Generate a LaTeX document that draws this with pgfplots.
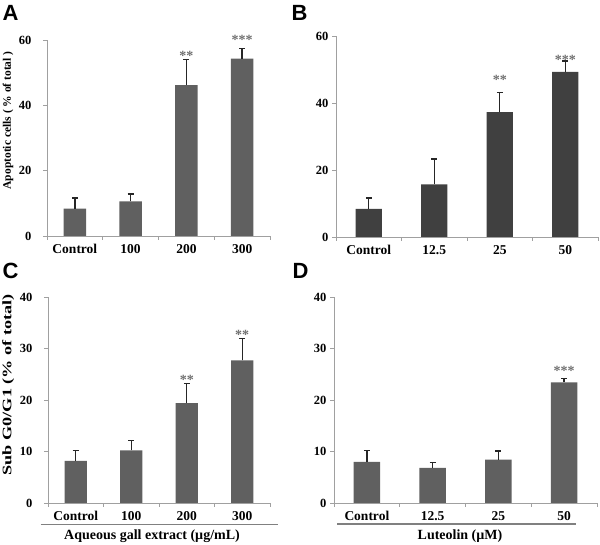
\documentclass[border=0pt]{standalone}
\usepackage{fontspec}
\setmainfont{Liberation Serif}
\newfontfamily\letterfont{Liberation Sans}
\usepackage{graphicx}
\usepackage{pgfplots}
\pgfplotsset{compat=1.18}

\definecolor{barA}{RGB}{96,96,96}
\definecolor{barB}{RGB}{64,64,64}
\definecolor{axgray}{RGB}{160,160,160}
\definecolor{stargray}{RGB}{110,110,110}

\tikzset{stars/.style={stargray, font=\fontsize{14}{16}\selectfont\bfseries, yshift=-3pt}}

\pgfplotsset{
  panel/.style={
    scale only axis, clip=false,
    xmin=-0.5, xmax=3.5, ymin=0, enlargelimits=false,
    axis x line*=bottom, axis y line*=left,
    axis line style={draw=axgray, line width=0.9pt},
    tick align=outside, major tick length=4pt, minor tick length=4pt,
    tick style={draw=axgray, line width=0.9pt},
    xtick={0,1,2,3}, major x tick style={draw=none},
    minor xtick={-0.5,0.5,1.5,2.5,3.5},
    /pgf/number format/assume math mode=true,
    xticklabel style={font=\fontsize{13.5}{15}\selectfont\bfseries, yshift=-1pt},
    yticklabel style={font=\fontsize{12.5}{14}\selectfont\bfseries},
    xticklabels={Control,100,200,300},
  },
  bars/.style={
    ybar, bar width=0.4, fill=#1, draw=none,
    error bars/.cd, y dir=plus, y explicit,
    error bar style={line width=1.3pt, color=black!85},
    error mark options={rotate=90, line width=1.3pt, mark size=3pt, color=black!85},
  },
}

\begin{document}
\begin{tikzpicture}
\useasboundingbox (0,0) rectangle (600pt,545pt);

% A
\begin{axis}[panel, at={(47pt,309pt)}, anchor=south west,
  width=223pt, height=196pt, ymax=60, ytick={0,20,40,60},
  yticklabel style={xshift=-8pt},
  ylabel={Apoptotic cells ( \% of total )},
  ylabel style={at={(rel axis cs:-0.175,0.59)}, rotate=0, anchor=center,
    font=\fontsize{11.5}{13}\selectfont\bfseries}]
\addplot[bars=barA] coordinates {
  (0,8.4) +- (0,3.2)
  (1,10.6) +- (0,2.3)
  (2,46.2) +- (0,7.9)
  (3,54.3) +- (0,3.0)
};
\node[stars] at (axis cs:2,56.0) {**};
\node[stars] at (axis cs:3,61.0) {***};
\end{axis}

% B
\begin{axis}[panel, at={(336pt,308pt)}, anchor=south west,
  width=262pt, height=201pt, ymax=60, ytick={0,20,40,60},
  xticklabels={Control,12.5,25,50}]
\addplot[bars=barB] coordinates {
  (0,8.4) +- (0,3.2)
  (1,15.7) +- (0,7.6)
  (2,37.3) +- (0,5.9)
  (3,49.3) +- (0,3.2)
};
\node[stars] at (axis cs:2,47.8) {**};
\node[stars] at (axis cs:3,53.7) {***};
\end{axis}

% C
\begin{axis}[panel, at={(48pt,42pt)}, anchor=south west,
  width=222pt, height=206pt, ymax=40, ytick={0,10,20,30,40},
  yticklabel style={xshift=-8pt},
  ylabel={\scalebox{1.4}[1]{Sub G0/G1 (\% of total)}},
  ylabel style={at={(rel axis cs:-0.179,0.574)}, rotate=0, anchor=center,
    font=\fontsize{13}{15}\selectfont\bfseries}]
\addplot[bars=barA] coordinates {
  (0,8.2) +- (0,2.0)
  (1,10.2) +- (0,2.0)
  (2,19.4) +- (0,3.8)
  (3,27.7) +- (0,4.2)
};
\node[stars] at (axis cs:2,24.5) {**};
\node[stars] at (axis cs:3,33.2) {**};
\end{axis}

% D
\begin{axis}[panel, at={(334pt,42pt)}, anchor=south west,
  width=263pt, height=206pt, ymax=40, ytick={0,10,20,30,40},
  xticklabels={Control,12.5,25,50}]
\addplot[bars=barA] coordinates {
  (0,8.0) +- (0,2.2)
  (1,6.8) +- (0,1.1)
  (2,8.4) +- (0,1.7)
  (3,23.4) +- (0,0.8)
};
\node[stars] at (axis cs:3,26.3) {***};
\end{axis}

% group lines and titles below C and D
\draw[gray, line width=1.1pt] (40.5pt,20.5pt) -- (278pt,20.5pt);
\node[font=\fontsize{14}{16}\selectfont\bfseries] at (152pt,9pt) {Aqueous gall extract (µg/mL)};
\draw[gray, line width=1.1pt] (337pt,21pt) -- (576pt,21pt);
\node[font=\fontsize{14}{16}\selectfont\bfseries] at (460pt,9pt) {Luteolin (µM)};

% panel letters
\node[font=\fontsize{22}{24}\selectfont\letterfont\bfseries] at (10.5pt,532pt) {A};
\node[font=\fontsize{22}{24}\selectfont\letterfont\bfseries] at (299.5pt,532pt) {B};
\node[font=\fontsize{22}{24}\selectfont\letterfont\bfseries] at (10.5pt,274pt) {C};
\node[font=\fontsize{22}{24}\selectfont\letterfont\bfseries] at (300.5pt,274pt) {D};
\end{tikzpicture}
\end{document}
